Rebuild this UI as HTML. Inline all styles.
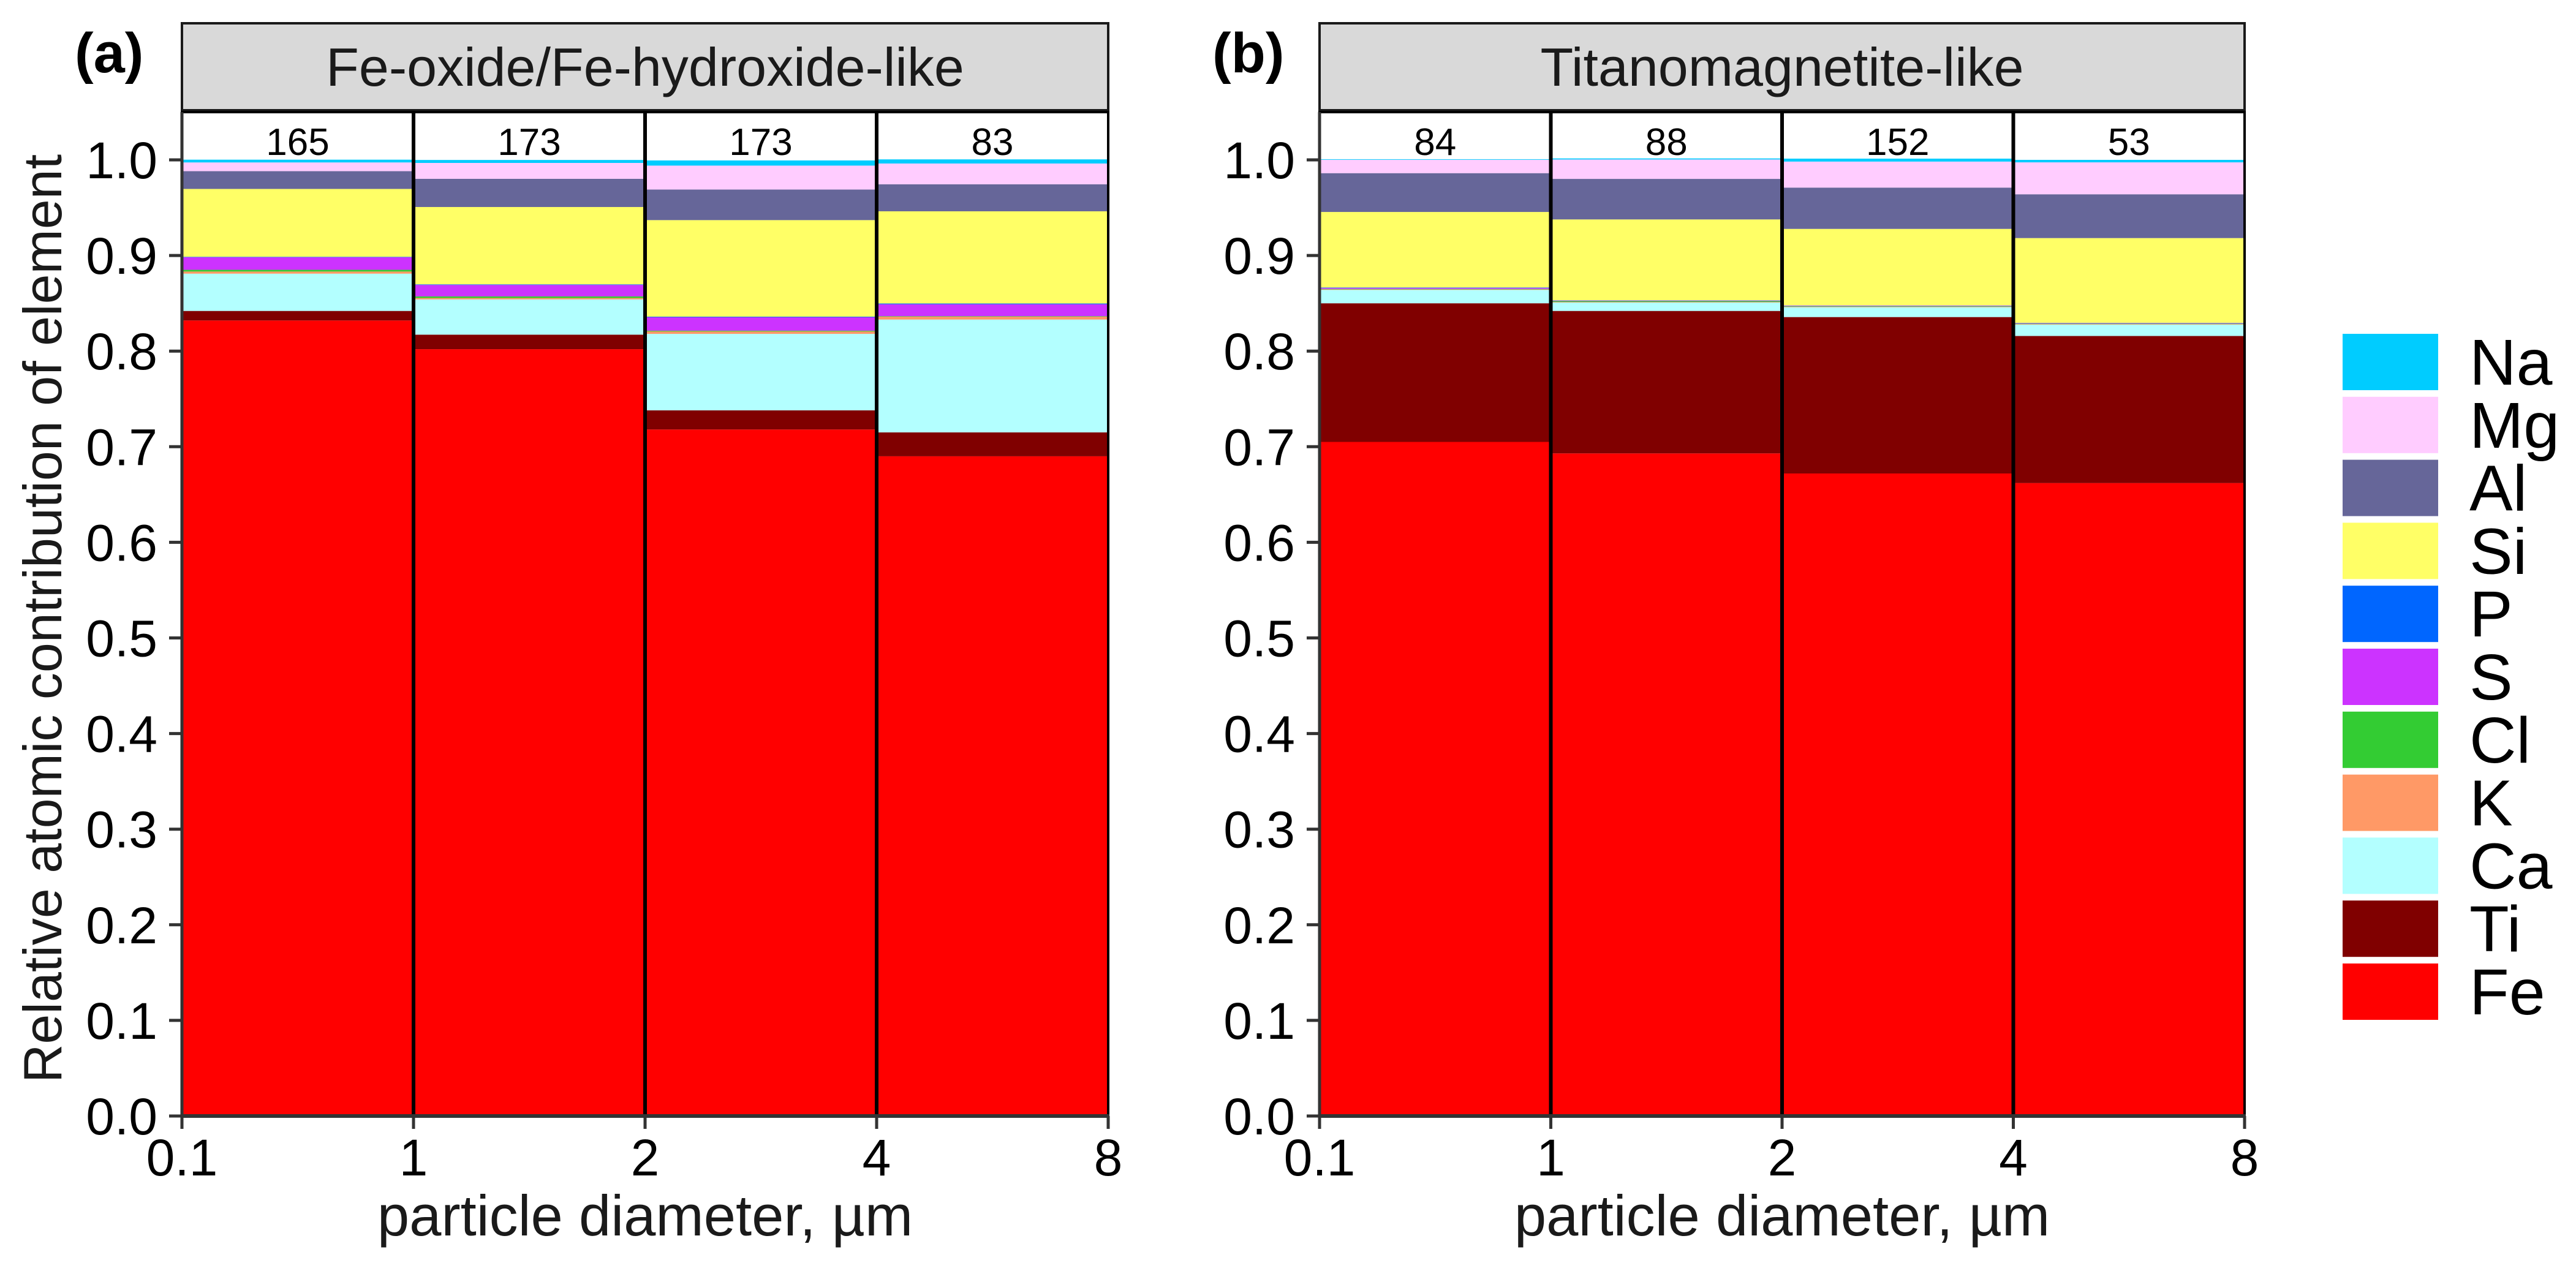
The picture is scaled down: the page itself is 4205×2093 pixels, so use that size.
<!DOCTYPE html>
<html><head><meta charset="utf-8">
<style>
html,body{margin:0;padding:0;background:#fff;}
svg{display:block;font-family:"Liberation Sans",Arial,sans-serif;}
</style></head>
<body>
<svg id="chart" width="4205" height="2093" viewBox="0 0 4205 2093" xmlns="http://www.w3.org/2000/svg"></svg>
<script>
// ---- data ----
const elements = ["Fe","Ti","Ca","K","Cl","S","P","Si","Al","Mg","Na"];
const colors = {Na:"#00ccff",Mg:"#ffccff",Al:"#666699",Si:"#ffff66",P:"#0066ff",S:"#cc33ff",Cl:"#33cc33",K:"#ff9966",Ca:"#b3ffff",Ti:"#800000",Fe:"#ff0000"};
const binEdges = ["0.1","1","2","4","8"];
const yTicks = [0,0.1,0.2,0.3,0.4,0.5,0.6,0.7,0.8,0.9,1.0];
const panelTitles = ["Fe-oxide/Fe-hydroxide-like","Titanomagnetite-like"];
const panelLetters = ["(a)","(b)"];
const countsA = [165,173,173,83];
const countsB = [84,88,152,53];
// per bin values, order: Fe,Ti,Ca,K,Cl,S,P,Si,Al,Mg,Na
const valuesA = [
  [0.832,0.010,0.039,0.0022,0.0018,0.0131,0.0005,0.0710,0.0186,0.0091,0.0029],
  [0.802,0.0152,0.0369,0.0014,0.0017,0.0120,0.0006,0.0809,0.0295,0.0166,0.0031],
  [0.718,0.020,0.080,0.0026,0.0008,0.014,0.0006,0.101,0.032,0.025,0.0054],
  [0.690,0.025,0.118,0.003,0.0005,0.0125,0.0008,0.0964,0.0283,0.0217,0.0043]
];
const valuesB = [
  [0.705,0.145,0.014,0.0005,0.0005,0.001,0.0005,0.079,0.0406,0.014,0.0006],
  [0.693,0.149,0.0088,0.0005,0.001,0.0005,0.0003,0.0846,0.0424,0.0203,0.0011],
  [0.672,0.1636,0.0103,0.0005,0.0005,0.0005,0.0003,0.0801,0.0432,0.0272,0.0031],
  [0.662,0.1538,0.0119,0.0005,0.0005,0.0005,0.0003,0.0887,0.0458,0.0334,0.0026]
];
const legendOrder = ["Na","Mg","Al","Si","P","S","Cl","K","Ca","Ti","Fe"];

// ---- layout ----
const NS="http://www.w3.org/2000/svg";
const svg=document.getElementById('chart');
function mk(tag,attrs,parent){const e=document.createElementNS(NS,tag);for(const k in attrs)e.setAttribute(k,attrs[k]);(parent||svg).appendChild(e);return e;}
const y0=1822, y1=261; // value 0 and 1
function yScale(v){return y0-(y0-y1)*v;}
const panels=[{left:297,right:1809,vals:valuesA,counts:countsA},{left:2154,right:3664,vals:valuesB,counts:countsB}];

panels.forEach((p,pi)=>{
  const g=mk('g',{});
  
  
  const n=binEdges.length-1;
  function xScale(i){return p.left+(p.right-p.left)*i/n;}
  const strip=mk('rect',{x:p.left,y:38,width:p.right-p.left,height:142,fill:'#d9d9d9',stroke:'#1a1a1a','stroke-width':4},g);
  
  
  const st=mk('text',{x:(p.left+p.right)/2,y:140,'font-size':88,'text-anchor':'middle',fill:'#1a1a1a'},g);
  st.textContent=panelTitles[pi];
  
  
  const lt=mk('text',{x:p.left-175,y:118,'font-size':92,'font-weight':'bold',fill:'#000'},g);
  lt.textContent=panelLetters[pi];
  
  
  p.vals.forEach((row,bi)=>{
    let cum=0;
    row.forEach((v,ei)=>{
      const yt=yScale(cum+v), yb=yScale(cum);
      cum+=v;
      const r=mk('rect',{x:xScale(bi),y:yt,width:xScale(bi+1)-xScale(bi),height:Math.max(0,yb-yt),fill:colors[elements[ei]]},g);
      
      
    });
    const ct=mk('text',{x:(xScale(bi)+xScale(bi+1))/2,y:253,'font-size':62,'text-anchor':'middle',fill:'#000'},g);
    ct.textContent=p.counts[bi];
    
    
  });
  for(let i=1;i<n;i++){
    const l=mk('line',{x1:xScale(i),x2:xScale(i),y1:183,y2:y0,stroke:'#000','stroke-width':6},g);
    
    
  }
  const border=mk('rect',{x:p.left,y:183,width:p.right-p.left,height:y0-183,fill:'none',stroke:'#000','stroke-width':4},g);
  
  
  const ya=mk('line',{x1:p.left,x2:p.left,y1:183,y2:y0+3,stroke:'#333','stroke-width':5},g);
  
  
  const xa=mk('line',{x1:p.left-2,x2:p.right+2,y1:y0,y2:y0,stroke:'#333','stroke-width':6},g);
  
  
  yTicks.forEach(t=>{
    const yy=yScale(t);
    const tk=mk('line',{x1:p.left-21,x2:p.left,y1:yy,y2:yy,stroke:'#333','stroke-width':5},g);
    
    
    const tl=mk('text',{x:p.left-40,y:yy+30,'font-size':84,'text-anchor':'end',fill:'#000'},g);
    tl.textContent=t.toFixed(1);
    
    
  });
  binEdges.forEach((lab,i)=>{
    const xx=xScale(i);
    const tk=mk('line',{x1:xx,x2:xx,y1:y0,y2:y0+21,stroke:'#333','stroke-width':5},g);
    
    
    const tl=mk('text',{x:xx,y:1919,'font-size':84,'text-anchor':'middle',fill:'#000'},g);
    tl.textContent=lab;
    
    
  });
  const xt=mk('text',{x:(p.left+p.right)/2,y:2017,'font-size':94,'text-anchor':'middle',fill:'#1a1a1a'},g);
  xt.textContent='particle diameter, µm';
  
  
});
const yt=mk('text',{x:0,y:0,'font-size':88,'text-anchor':'middle',fill:'#1a1a1a',transform:'translate(100,1010) rotate(-90)'});
yt.textContent='Relative atomic contribution of element';


const lg=mk('g',{});


legendOrder.forEach((el,i)=>{
  const yy=545+i*102.8;
  const r=mk('rect',{x:3824,y:yy,width:156,height:92,fill:colors[el]},lg);
  
  
  const t=mk('text',{x:4031,y:yy+83,'font-size':106,fill:'#000'},lg);
  t.textContent=el;
  
  
});
</script>
</body></html>
